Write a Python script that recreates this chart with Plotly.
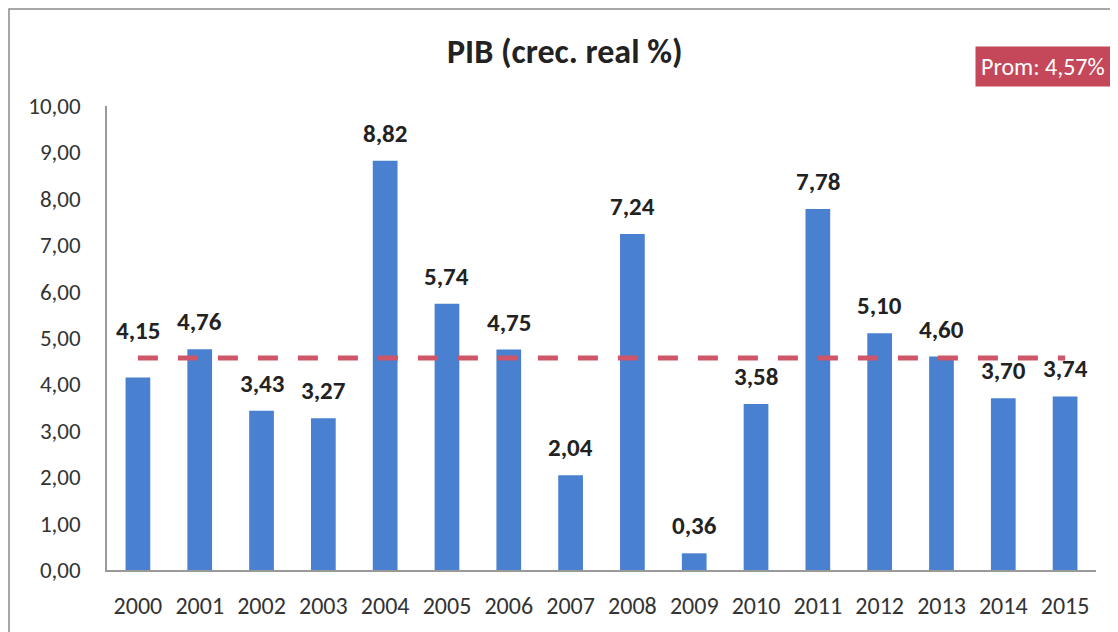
import plotly.graph_objects as go

years = ["2000", "2001", "2002", "2003", "2004", "2005", "2006", "2007",
         "2008", "2009", "2010", "2011", "2012", "2013", "2014", "2015"]
pib = [4.15, 4.76, 3.43, 3.27, 8.82, 5.74, 4.75, 2.04,
       7.24, 0.36, 3.58, 7.78, 5.10, 4.60, 3.70, 3.74]
prom = 4.57
title_text = "PIB (crec. real %)"
prom_text = "Prom: 4,57%"
y_ticks = [0, 1, 2, 3, 4, 5, 6, 7, 8, 9, 10]

FONT = "Carlito, Lato, Calibri, sans-serif"
OFF = 8  # browser body margin
W, H = 1118 - OFF, 632 - OFF
L, T = 107 - OFF, 106 - OFF
R = W - (1096 - OFF)
B = H - (570 - OFF)
pw, ph = W - L - R, H - T - B


def px_x(px):
    return (px - OFF - L) / pw


def px_y(py):
    return (H - B - (py - OFF)) / ph


fig = go.Figure()
fig.add_trace(go.Bar(
    x=years, y=pib,
    marker=dict(color="#4A80D0", line=dict(width=0)),
    hoverinfo="skip",
))
fig.add_trace(go.Scatter(
    x=[years[0], years[-1]], y=[prom, prom], mode="lines",
    line=dict(color="#CE5668", width=5, dash="20px,20px"),
    hoverinfo="skip",
))

annotations = []
for i, v in enumerate(pib):
    # labels just under the mean line are lifted above it
    anchor = prom if (prom - 0.5 < v < prom) else v
    annotations.append(dict(
        x=i, y=anchor, xref="x", yref="y",
        text="<b>%s</b>" % f"{v:.2f}".replace(".", ","),
        showarrow=False, xanchor="center", yanchor="bottom", yshift=10,
        font=dict(family=FONT, size=25, color="#222222"),
    ))

annotations += [
    dict(text="<b>" + title_text + "</b>", xref="paper", yref="paper",
         x=px_x(565), y=px_y(52), xanchor="center",
         yanchor="middle", showarrow=False,
         font=dict(family=FONT, size=34, color="#222222")),
    dict(text=prom_text, xref="paper", yref="paper",
         x=px_x(1111), y=px_y(67), xanchor="right",
         yanchor="middle", showarrow=False, bgcolor="#C44859",
         borderpad=5, font=dict(family=FONT, size=24, color="white")),
]

fig.update_layout(
    width=W, height=H,
    margin=dict(l=L, r=R, t=T, b=B),
    paper_bgcolor="white", plot_bgcolor="white",
    showlegend=False, bargap=0.6,
    separators=",.",
    font=dict(family=FONT, color="#333333"),
    xaxis=dict(
        type="category", showgrid=False, showline=True, linecolor="#999999",
        linewidth=1.5, ticks="", tickfont=dict(size=24, color="#333333"),
        ticklabelstandoff=13, range=[-0.5, len(years) - 0.5],
    ),
    yaxis=dict(
        range=[0, 10], tickvals=y_ticks, tickformat=".2f", showgrid=False,
        showline=True, linecolor="#999999", linewidth=1.5, ticks="",
        tickfont=dict(size=23, color="#333333"), ticklabelstandoff=20,
        zeroline=False,
    ),
    annotations=annotations,
    shapes=[
        dict(type="rect", xref="paper", yref="paper",
             x0=px_x(9), x1=px_x(1140),
             y0=px_y(660), y1=px_y(9),
             line=dict(color="#8A8A8A", width=1.5), fillcolor="rgba(0,0,0,0)",
             layer="below"),
    ],
)

fig.write_html("out.html")
